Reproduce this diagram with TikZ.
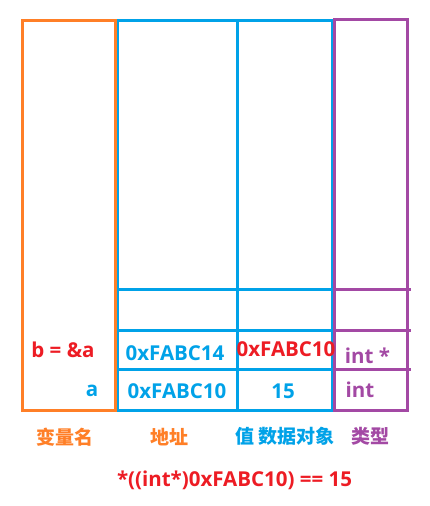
\documentclass[tikz,border=0pt]{standalone}
\usepackage{fontspec}
\setmainfont{Open Sans}
\newfontfamily\cjk{Noto Sans CJK SC}
\definecolor{cOrange}{RGB}{255,127,39}
\definecolor{cBlue}{RGB}{0,162,232}
\definecolor{cPurple}{RGB}{163,73,164}
\definecolor{cRed}{RGB}{237,28,36}
\begin{document}
\begin{tikzpicture}[x=1pt,y=-1pt,
  frame/.style={line width=3pt},
  txt/.style={anchor=base,inner sep=0pt,font=\fontsize{20.5}{20.5}\selectfont\bfseries},
  cjklabel/.style={anchor=base,inner sep=0pt,font=\fontsize{19}{19}\selectfont\cjk\bfseries}]
\useasboundingbox[fill=white] (0,0) rectangle (430,506);
% columns
\draw[frame,cBlue] (117,20.5) rectangle (332,410);
\draw[frame,cBlue] (237.5,20.5) -- (237.5,410);
\foreach \yy in {289.5,330,369.5} \draw[frame,cBlue] (117,\yy) -- (332,\yy);
\draw[frame,cOrange] (22.5,20.5) rectangle (115.5,410);
\draw[frame,cPurple] (334.5,19.3) rectangle (407.3,410);
\foreach \yy in {289.5,330,369.5} \draw[frame,cPurple] (334.5,\yy) -- (410.5,\yy);
% cell texts
\node[txt,cRed] (b) at (63,357.3) {b = \&a};
\node[txt,cBlue] (a) at (92,396.7) {a};
\node[txt,cBlue] (addrb) at (175,360.7) {0xFABC14};
\node[txt,cRed] (valb) at (286,356) {0xFABC10};
\node[txt,cPurple] (typeb) at (367.5,363.3) {int *};
\node[txt,cBlue] (addra) at (177,398.3) {0xFABC10};
\node[txt,cBlue] (vala) at (283,398.3) {15};
\node[txt,cPurple] (typea) at (360,397.7) {int};
% column labels
\node[cjklabel,cOrange] (l1) at (64.7,444.5) {变量名};
\node[cjklabel,cOrange] (l2) at (169.7,444.5) {地址};
\node[cjklabel,cBlue] (l3) at (285,443) {值 数据对象};
\node[cjklabel,cPurple] (l4) at (370,443.5) {类型};
% formula
\node[txt,cRed] (f) at (234.5,486.5) {*((int*)0xFABC10) == 15};
\end{tikzpicture}
\end{document}
